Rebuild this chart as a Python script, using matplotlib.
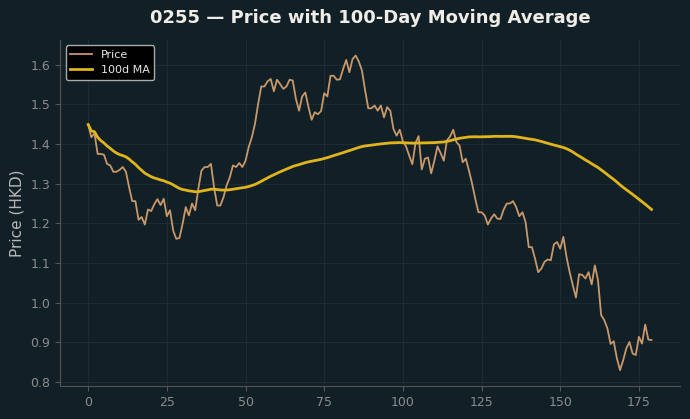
import numpy as np
import pandas as pd
import matplotlib
matplotlib.use("Agg")
import matplotlib.pyplot as plt

# price readings, one per trading day (index 0..179)
price = [
    1.449, 1.417, 1.427, 1.375, 1.375, 1.373, 1.350, 1.346, 1.330, 1.330,
    1.335, 1.342, 1.330, 1.291, 1.256, 1.256, 1.209, 1.216, 1.197, 1.235,
    1.231, 1.248, 1.261, 1.246, 1.262, 1.218, 1.233, 1.182, 1.161, 1.163,
    1.199, 1.241, 1.220, 1.250, 1.233, 1.287, 1.333, 1.342, 1.342, 1.350,
    1.291, 1.245, 1.245, 1.266, 1.296, 1.316, 1.346, 1.342, 1.352, 1.342,
    1.358, 1.392, 1.417, 1.451, 1.501, 1.545, 1.545, 1.558, 1.564, 1.533,
    1.562, 1.551, 1.539, 1.545, 1.562, 1.560, 1.514, 1.484, 1.520, 1.530,
    1.493, 1.461, 1.480, 1.475, 1.483, 1.528, 1.520, 1.572, 1.572, 1.562,
    1.563, 1.589, 1.612, 1.581, 1.614, 1.623, 1.608, 1.585, 1.535, 1.490,
    1.490, 1.497, 1.484, 1.497, 1.467, 1.493, 1.484, 1.438, 1.421, 1.436,
    1.407, 1.394, 1.371, 1.349, 1.402, 1.420, 1.336, 1.363, 1.366, 1.326,
    1.358, 1.394, 1.377, 1.358, 1.409, 1.419, 1.436, 1.405, 1.396, 1.354,
    1.363, 1.333, 1.300, 1.262, 1.228, 1.228, 1.220, 1.197, 1.212, 1.223,
    1.212, 1.211, 1.234, 1.250, 1.250, 1.256, 1.241, 1.218, 1.228, 1.203,
    1.140, 1.140, 1.111, 1.077, 1.086, 1.103, 1.109, 1.107, 1.147, 1.153,
    1.136, 1.166, 1.115, 1.077, 1.044, 1.013, 1.072, 1.070, 1.061, 1.077,
    1.046, 1.094, 1.057, 0.969, 0.956, 0.935, 0.896, 0.903, 0.860, 0.830,
    0.855, 0.885, 0.901, 0.872, 0.868, 0.914, 0.897, 0.945, 0.907, 0.906,
]
ma_window = 100
title = "0255 \u2014 Price with 100-Day Moving Average"

df = pd.DataFrame({"Price": price})
df["MA"] = df["Price"].rolling(ma_window, min_periods=1).mean()

bg = "#111f26"
fig, ax = plt.subplots(figsize=(6.9, 4.19), dpi=100)
fig.patch.set_facecolor(bg)
ax.set_facecolor(bg)

ax.plot(df.index, df["Price"], color="#c9986a", lw=1.3, label="Price")
ax.plot(df.index, df["MA"], color="#e0b41c", lw=2.0, label="100d MA")

ax.set_title(title, color="#f0ede6", fontsize=13, fontweight="bold", pad=12)
ax.set_ylabel("Price (HKD)", color="#b8b8b8", fontsize=11)
ax.grid(True, color="#1d2c33", lw=0.8)
ax.set_axisbelow(True)
for s in ["top", "right"]:
    ax.spines[s].set_visible(False)
for s in ["left", "bottom"]:
    ax.spines[s].set_color("#555555")
ax.tick_params(colors="#555555", labelcolor="#8c8c8c", labelsize=9)
ax.set_yticks(np.arange(0.8, 1.61, 0.1))

leg = ax.legend(loc="upper left", fontsize=8, facecolor="black",
                edgecolor="#aaaaaa", framealpha=1)
for t in leg.get_texts():
    t.set_color("#e8e8e8")

plt.subplots_adjust(left=0.087, right=0.985, top=0.905, bottom=0.079)
plt.savefig("out.png", dpi=100, facecolor=bg)
